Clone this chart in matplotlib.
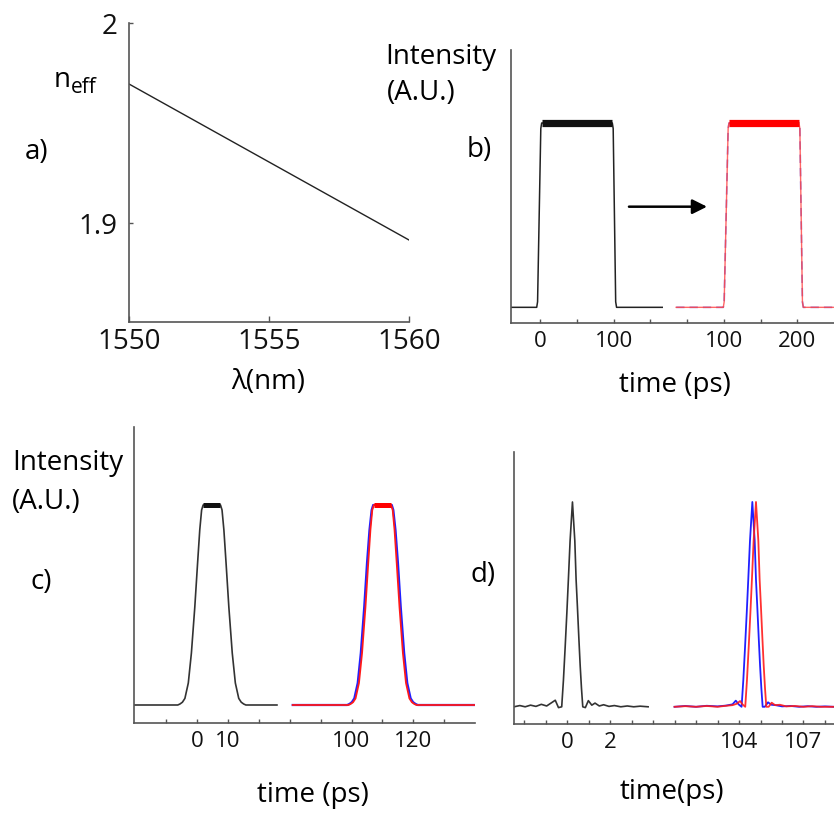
import matplotlib
matplotlib.use("Agg")
import numpy as np
import matplotlib.pyplot as plt

plt.rcParams['font.family'] = ['Open Sans', 'DejaVu Sans']

# ---------------- data ----------------
# (a) effective index versus wavelength
wavelength_nm = [1550.0, 1560.0]
n_eff = [1.9695, 1.8915]

# (b) 100 ps square pulse: input and delayed output
b_in_t = [-39.5, -5.0, -3.8, 0.6, 1.8, 98.0, 99.2, 102.6, 103.8, 166.0]
b_in_I = [0.0, 0.0, 0.03, 0.97, 1.0, 1.0, 0.97, 0.03, 0.0, 0.0]
b_out_t = [35.0, 99.2, 100.4, 105.8, 107.0, 202.3, 203.5, 207.0, 208.2, 250.0]
b_out_I = [0.0, 0.0, 0.03, 0.97, 1.0, 1.0, 0.97, 0.03, 0.0, 0.0]

# (c) 10 ps pulse: rising-edge profile relative to the pulse centre
c_rise_dt = [-11.0, -10.3, -9.5, -8.7, -7.6, -6.6, -5.5, -4.6, -3.9, -3.3, -2.8]
c_rise_I = [0.0, 0.005, 0.014, 0.033, 0.11, 0.26, 0.49, 0.71, 0.875, 0.975, 1.0]
c_rise_dt_blue = [-11.4, -10.7, -9.9, -9.1, -8.0, -7.0, -5.9, -5.0, -4.2, -3.5, -3.0]
c_in_center, c_in_span = 4.85, (-20.3, 25.9)
c_out_center, c_out_span = 110.0, (81.0, 140.0)

# (d) 1 ps pulse: peak profile relative to the peak time
d_peak_dt = [-0.50, -0.42, -0.34, -0.26, -0.19, -0.11, 0.0, 0.11, 0.17, 0.23, 0.30, 0.36, 0.42, 0.48]
d_peak_I = [0.0, 0.13, 0.29, 0.46, 0.62, 0.81, 1.0, 0.81, 0.62, 0.49, 0.33, 0.20, 0.09, 0.0]
d_in_center = 0.25
d_in_pre_t = [-2.47, -2.2, -1.95, -1.7, -1.45, -1.2, -0.95, -0.75, -0.55, -0.4]
d_in_pre_I = [0.0, 0.006, 0.0, 0.008, 0.002, 0.012, 0.004, 0.018, 0.032, -0.004]
d_in_post_t = [0.85, 0.99, 1.15, 1.3, 1.5, 1.7, 1.95, 2.2, 2.5, 2.8, 3.1, 3.4, 3.77]
d_in_post_I = [-0.004, 0.03, 0.008, 0.018, 0.004, 0.01, 0.002, 0.006, 0.0, 0.004, 0.0, 0.003, 0.0]
d_blue_center = 104.62
d_blue_pre_t = [101.0, 101.5, 102.0, 102.5, 103.0, 103.4, 103.7, 103.85, 104.0]
d_blue_pre_I = [0.0, 0.004, 0.0, 0.005, 0.002, 0.006, 0.012, 0.03, 0.01]
d_blue_post_t = [105.2, 105.35, 105.5, 105.7, 106.0, 106.4, 106.8, 107.2, 107.6, 108.0, 108.4]
d_blue_post_I = [0.0, 0.022, 0.01, 0.008, 0.002, 0.004, 0.0, 0.003, 0.0, 0.002, 0.0]
d_red_center = 104.79
d_red_pre_t = [101.0, 101.5, 102.0, 102.5, 103.0, 103.4, 103.7, 103.9, 104.05, 104.18]
d_red_pre_I = [0.0, 0.003, 0.0, 0.004, 0.0, 0.005, 0.008, 0.015, 0.028, 0.01]
d_red_post_t = [105.38, 105.52, 105.68, 105.9, 106.2, 106.6, 107.0, 107.4, 107.8, 108.4]
d_red_post_I = [0.0, 0.02, 0.008, 0.01, 0.002, 0.004, 0.0, 0.003, 0.0, 0.0]

# broken time axes: plotted position = time + shift for the right-hand section
b_shift, c_shift, d_shift = 150.0, -50.0, -96.0
b_tick_pos = [0, 50, 100, 150, 200, 250, 300, 350]
b_tick_lab = ['0', '', '100', '', '', '100', '', '200']
c_tick_pos = [-10, 0, 10, 20, 30, 40, 50, 60, 70, 80]
c_tick_lab = ['', '0', '10', '', '', '', '100', '', '120', '']
d_tick_pos = list(range(-2, 13))
d_tick_lab = ['', '', '0', '', '2', '', '', '', '', '', '104', '', '', '107', '']

W, H = 834, 814
fig = plt.figure(figsize=(W / 100, H / 100), dpi=100)

AX_COL = '#555555'


def add_ax(x0, y0, x1, y1):
    return fig.add_axes([x0 / W, 1 - y1 / H, (x1 - x0) / W, (y1 - y0) / H])


def ftext(x, y, s, **kw):
    kw.setdefault('fontsize', 20)
    fig.text(x / W, 1 - y / H, s, **kw)


def style(ax, labelsize=16):
    for s in ('top', 'right'):
        ax.spines[s].set_visible(False)
    for s in ('left', 'bottom'):
        ax.spines[s].set_color(AX_COL)
        ax.spines[s].set_linewidth(1.2)
    ax.patch.set_alpha(0)
    ax.tick_params(axis='both', direction='in', length=4, width=1.0,
                   colors=AX_COL, labelcolor='#111111', labelsize=labelsize, pad=5)


def pulse(center, rise_dt, rise_I, span):
    t = [span[0]] + [center + d for d in rise_dt] + [center - d for d in rise_dt[::-1]] + [span[1]]
    I = [0.0] + list(rise_I) + list(rise_I[::-1]) + [0.0]
    return np.array(t), np.array(I)


def spike(center, pre_t, pre_I, post_t, post_I):
    t = list(pre_t) + [center + d for d in d_peak_dt] + list(post_t)
    I = list(pre_I) + list(d_peak_I) + list(post_I)
    return np.array(t), np.array(I)


# ---------------- (a) ----------------
ax = add_ax(129, 23, 409, 322)
style(ax, labelsize=20)
ax.plot(wavelength_nm, n_eff, color='#222222', lw=1.0)
ax.set_xlim(1550, 1560)
ax.set_ylim(1.8505, 2.0)
ax.set_xticks([1550, 1555, 1560])
ax.set_yticks([1.9, 2.0])
ax.set_yticklabels(['1.9', '2'])
ax.tick_params(axis='y', length=3, pad=8)
ax.tick_params(axis='x', pad=4)
ftext(268, 382, 'λ(nm)', ha='center', va='center')
ftext(37, 152, 'a)', ha='center', va='center')
ftext(54, 87, 'n', ha='left', va='baseline')
ftext(71, 93, 'eff', ha='left', va='baseline', fontsize=15)

# ---------------- (b) ----------------
ax = add_ax(511, 50, 834, 323)
style(ax)
ax.set_xlim(-40, 400)
ax.set_ylim(-0.085, 1.396)
ax.set_yticks([])
ax.set_xticks(b_tick_pos)
ax.set_xticklabels(b_tick_lab)
ax.tick_params(axis='x', length=3, pad=6)
bt, bI = np.array(b_in_t), np.array(b_in_I)
ax.plot(bt, bI, color='#222222', lw=1.1)
top = bI >= 1.0
ax.plot(bt[top], bI[top], color='#111111', lw=5.2, solid_capstyle='butt')
ot, oI = np.array(b_out_t) + b_shift, np.array(b_out_I)
ax.plot(ot, oI, color='#6a40c8', lw=1.2, ls=(0, (5, 3)), alpha=0.7)
ax.plot(ot, oI, color='#ff4040', lw=1.0, alpha=0.8)
top = oI >= 1.0
ax.plot(ot[top], oI[top], color='#ff0000', lw=5.2, solid_capstyle='butt')
ax.annotate('', xy=(227, 0.546), xytext=(120.7, 0.546),
            arrowprops=dict(arrowstyle='-|>', color='black', lw=1.8,
                            mutation_scale=22, shrinkA=0, shrinkB=0))
ftext(385, 57, 'Intensity', ha='left', va='center')
ftext(387, 93, '(A.U.)', ha='left', va='center')
ftext(479, 150, 'b)', ha='center', va='center')
ftext(675, 385, 'time (ps)', ha='center', va='center')

# ---------------- (c) ----------------
ax = add_ax(134, 427, 475, 723)
style(ax)
ax.set_xlim(-20.3, 89.9)
ax.set_ylim(-0.09, 1.39)
ax.set_yticks([])
ax.set_xticks(c_tick_pos)
ax.set_xticklabels(c_tick_lab)
ax.tick_params(axis='x', length=3, pad=6)
t, I = pulse(c_in_center, c_rise_dt, c_rise_I, c_in_span)
ax.plot(t, I, color='#333333', lw=1.2)
top = I >= 1.0
ax.plot(t[top], I[top], color='#111111', lw=3.6, solid_capstyle='butt')
tb, Ib = pulse(c_out_center, c_rise_dt_blue, c_rise_I, c_out_span)
ax.plot(tb + c_shift, Ib, color='#2020ff', lw=1.6)
t, I = pulse(c_out_center, c_rise_dt, c_rise_I, c_out_span)
ax.plot(t + c_shift, I, color='#ff1a1a', lw=1.3)
top = I >= 1.0
ax.plot(t[top] + c_shift, I[top], color='#ff0000', lw=3.6, solid_capstyle='butt')
ftext(12, 463, 'Intensity', ha='left', va='center')
ftext(12, 502, '(A.U.)', ha='left', va='center')
ftext(41, 582, 'c)', ha='center', va='center')
ftext(313, 795, 'time (ps)', ha='center', va='center')

# ---------------- (d) ----------------
ax = add_ax(514, 452, 834, 724)
style(ax)
ax.set_xlim(-2.47, 12.42)
ax.set_ylim(-0.084, 1.244)
ax.set_yticks([])
ax.set_xticks(d_tick_pos)
ax.set_xticklabels(d_tick_lab)
ax.tick_params(axis='x', length=3, pad=6)
t, I = spike(d_in_center, d_in_pre_t, d_in_pre_I, d_in_post_t, d_in_post_I)
ax.plot(t, I, color='#333333', lw=1.2)
t, I = spike(d_blue_center, d_blue_pre_t, d_blue_pre_I, d_blue_post_t, d_blue_post_I)
ax.plot(t + d_shift, I, color='#2020ff', lw=1.3)
t, I = spike(d_red_center, d_red_pre_t, d_red_pre_I, d_red_post_t, d_red_post_I)
ax.plot(t + d_shift, I, color='#ff1a1a', lw=1.3, alpha=0.9)
ftext(483, 575, 'd)', ha='center', va='center')
ftext(672, 792, 'time(ps)', ha='center', va='center')

fig.savefig('out.png', dpi=100)
